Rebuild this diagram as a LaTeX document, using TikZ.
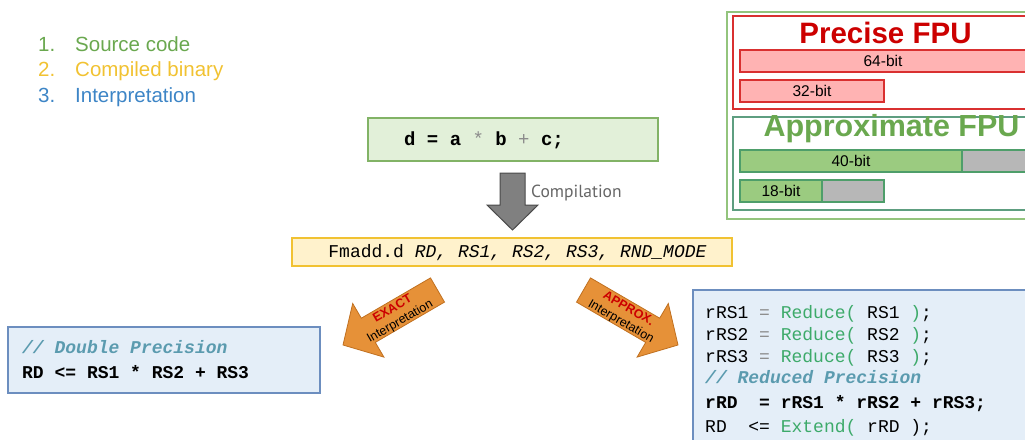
\documentclass[tikz,border=0pt]{standalone}
\usepackage{fontspec}
\setmainfont{Liberation Sans}
\newfontfamily\codefont{Liberation Mono}
\newfontfamily\compfont{PT Sans}
\definecolor{lgreen}{HTML}{6AA84F}
\definecolor{lorange}{HTML}{F1C232}
\definecolor{lblue}{HTML}{3D85C6}
\definecolor{fpured}{HTML}{CC0000}
\definecolor{pinkfill}{HTML}{FFB3B3}
\definecolor{pinkline}{HTML}{D93030}
\definecolor{barfill}{HTML}{9BCB80}
\definecolor{barline}{HTML}{4E9E6A}
\definecolor{graybar}{HTML}{B7B7B7}
\definecolor{outergreen}{HTML}{93C47D}
\definecolor{approxline}{HTML}{5E9E80}
\definecolor{srcfill}{HTML}{E2F0D9}
\definecolor{srcline}{HTML}{82B366}
\definecolor{binfill}{HTML}{FFF2CC}
\definecolor{binline}{HTML}{F1C232}
\definecolor{codefill}{HTML}{E4EEF8}
\definecolor{codeline}{HTML}{6C8EBF}
\definecolor{cmt}{HTML}{5B9BAF}
\definecolor{fn}{HTML}{3DAA6A}
\definecolor{op}{HTML}{8C8C8C}
\definecolor{arrowfill}{HTML}{E69138}
\definecolor{arrowline}{HTML}{C07020}
\definecolor{compgray}{HTML}{666666}
\definecolor{grayarrow}{HTML}{808080}
\definecolor{grayarrowline}{HTML}{4A4A4A}
\tikzset{
  boxshape/.style={draw, line width=1.2pt, inner sep=0pt},
  listitem/.style={anchor=base west, inner sep=0pt, font=\fontsize{20.5}{24}\selectfont},
  codetext/.style={anchor=base west, inner sep=0pt, font=\codefont\fontsize{18}{22}\selectfont},
  barshape/.style={draw=barline, line width=1.3pt},
  pinkbar/.style={draw=pinkline, fill=pinkfill, line width=1.3pt},
  barlabel/.style={inner sep=0pt, font=\fontsize{15.5}{18}\selectfont},
  blockarrow/.style={draw=arrowline, fill=arrowfill, line width=0.8pt, line join=miter},
  arrowtext/.style={inner sep=0pt, align=center, font=\fontsize{12.5}{14.8}\selectfont},
  fputitle/.style={inner sep=0pt, font=\bfseries\fontsize{29.5}{32}\selectfont}
}
\begin{document}
\begin{tikzpicture}[x=1pt,y=-1pt]
\useasboundingbox (0,0) rectangle (1025,439);
\clip (0,0) rectangle (1025,439);

% legend list
\node[listitem, text=lgreen] (n1) at (38,51) {1.};
\node[listitem, text=lgreen] (l1) at (75,51) {Source code};
\node[listitem, text=lorange] (n2) at (38,76.5) {2.};
\node[listitem, text=lorange] (l2) at (75,76.5) {Compiled binary};
\node[listitem, text=lblue] (n3) at (38,102) {3.};
\node[listitem, text=lblue] (l3) at (75,102) {Interpretation};

% FPU panel
\draw[draw=outergreen, line width=1.3pt] (727,12) rectangle (1040,219);
\draw[draw=pinkline, line width=1.2pt] (733,16) rectangle (1040,109);
\node[fputitle, text=fpured] (ptitle) at (885.5,33) {Precise FPU};
\draw[pinkbar] (740,50) rectangle (1030,72);
\node[barlabel] (b64) at (883,61) {64-bit};
\draw[pinkbar] (740,80) rectangle (884,102);
\node[barlabel] (b32) at (812,91) {32-bit};
\draw[draw=approxline, line width=1.2pt] (733,117) rectangle (1040,210);
\node[fputitle, text=lgreen, font=\bfseries\fontsize{30.5}{32}\selectfont] (atitle) at (891.5,129) {Approximate FPU};
\draw[barshape, fill=graybar] (962,150) rectangle (1030,172);
\draw[barshape, fill=barfill] (740,150) rectangle (962,172);
\node[barlabel] (b40) at (851,161) {40-bit};
\draw[barshape, fill=graybar] (822,180) rectangle (884,202);
\draw[barshape, fill=barfill] (740,180) rectangle (822,202);
\node[barlabel] (b18) at (781,191) {18-bit};

% source code box
\node[boxshape, draw=srcline, fill=srcfill, minimum width=290pt, minimum height=43pt] (src) at (513,139.5) {};
\node[codetext, anchor=base, font=\codefont\fontsize{19}{22}\selectfont] (srctxt) at (484,145.5) {\textbf{d = a} \textcolor{op}{*} \textbf{b} \textcolor{op}{+} \textbf{c;}};

% compilation arrow
\coordinate (ctop) at (512.5,173);
\coordinate (ctip) at (512.5,230);
\draw[draw=grayarrowline, fill=grayarrow, line width=1pt, line join=miter]
  (500,173) -- (525,173) -- (525,205) -- (538,205) -- (ctip) -- (487,205) -- (500,205) -- cycle;
\node[anchor=west, inner sep=0pt, text=compgray, font=\compfont\fontsize{17.5}{20}\selectfont] (comp) at (531,193) {Compilation};

% binary box
\node[boxshape, draw=binline, fill=binfill, minimum width=440pt, minimum height=28pt] (bin) at (512,252) {};
\node[codetext, anchor=base] (bintxt) at (517.5,257.5) {Fmadd.d \textit{RD, RS1, RS2, RS3, RND\_MODE}};

% exact interpretation arrow
\draw[blockarrow] (430.5,277.9) -- (444.5,302.1) -- (375.3,342.4) -- (383.9,357.1) -- (343,345) -- (352.7,303.5) -- (361.3,318.2) -- cycle;
\node[arrowtext, rotate=30] (exact) at (396.5,315.5) {\textcolor{fpured}{\bfseries EXACT}\\Interpretation};

% approx interpretation arrow
\draw[blockarrow] (590.5,277.9) -- (576.5,302.1) -- (645.7,342.4) -- (637.1,357.1) -- (678,345) -- (668.3,303.5) -- (659.7,318.2) -- cycle;
\node[arrowtext, rotate=-30] (approx) at (624.5,315.5) {\textcolor{fpured}{\bfseries APPROX.}\\Interpretation};

% left code box
\node[boxshape, draw=codeline, fill=codefill, minimum width=312pt, minimum height=66pt] (exbox) at (164,360) {};
\node[codetext] (ex1) at (22,353.5) {\textcolor{cmt}{\bfseries\itshape // Double Precision}};
\node[codetext] (ex2) at (22,378.5) {\bfseries RD <= RS1 * RS2 + RS3};

% right code box
\node[boxshape, draw=codeline, fill=codefill, minimum width=342pt, minimum height=160pt] (apbox) at (864,370) {};
\node[codetext] (ap1) at (705,318.5) {rRS1 \textcolor{op}{=} \textcolor{fn}{Reduce(} RS1 \textcolor{fn}{)};};
\node[codetext] (ap2) at (705,340.5) {rRS2 \textcolor{op}{=} \textcolor{fn}{Reduce(} RS2 \textcolor{fn}{)};};
\node[codetext] (ap3) at (705,362.5) {rRS3 \textcolor{op}{=} \textcolor{fn}{Reduce(} RS3 \textcolor{fn}{)};};
\node[codetext] (ap4) at (705,383.5) {\textcolor{cmt}{\bfseries\itshape // Reduced Precision}};
\node[codetext] (ap5) at (705,408.5) {\bfseries rRD~~= rRS1 * rRS2 + rRS3;};
\node[codetext] (ap6) at (705,432.5) {RD~~<= \textcolor{fn}{Extend(} rRD );};
\end{tikzpicture}
\end{document}
